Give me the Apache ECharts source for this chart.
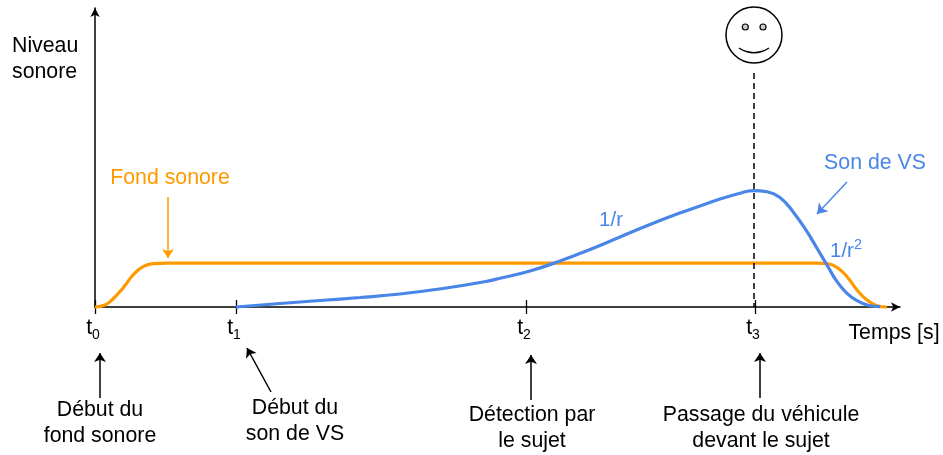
<!DOCTYPE html>
<html><head><meta charset="utf-8">
<style>html,body{margin:0;padding:0;background:#fff}#c{width:943px;height:455px}</style>
<script src="https://cdn.jsdelivr.net/npm/echarts@6/dist/echarts.min.js"></script>
</head><body><div id="c"></div>
<script>
// Axis units: 1 unit on each axis, origin at t0 / zero level
var tickTimes = [0, 141, 431, 660];
var tickLabels = ['{t|t}{s|0}', '{t|t}{s|1}', '{t|t}{s|2}', '{t|t}{s|3}'];
var fondSonore = [[0,0],[10,2],[18,8],[28,19],[38,32],[48,40.3],[58,43.3],[72,43.8],[200,43.8],[400,43.8],[600,43.8],[722,43.8],[732,43.4],[742,39.7],[752,30.3],[762,17],[772,7],[782,1.3],[792,0]];
var sonVS = [[141,0],[185,3.5],[225,6.5],[265,9.5],[305,13],[348,18.5],[388,25],[405,28.7],[435,36],[465,46],[495,57.5],[525,70],[555,82.5],[585,94],[605,101],[625,108],[645,113.8],[658,116.4],[672,115.3],[685,109.5],[698,95.3],[712,75.3],[722,58.7],[732,42],[742,25.3],[752,13.7],[762,6.3],[773,1.7],[785,0.3]];
var blackArrows = [
  [[5,-91],[5,-46]],
  [[176,-85],[152,-41]],
  [[436,-93],[436,-48]],
  [[665,-91],[665,-46]]
];
var orangeArrows = [[[73,110],[73,49]]];
var blueArrows = [[[752,125],[722,93]]];
var passageLine = [[[659,234],[659,0]]];
var blackLabels = [
  ['Début du\nfond sonore', 5, -116],
  ['Début du\nson de VS', 200, -114],
  ['Détection par\nle sujet', 437, -121],
  ['Passage du véhicule\ndevant le sujet', 666, -121],
  ['Temps [s]', 799, -26]
];
var sideLabel = ['Niveau\nsonore', -83, 248];
var orangeLabels = [['Fond sonore', 75, 129]];
var blueLabels = [['Son de VS', 780, 144],['{b|1/r}', 516, 90],['{b|1/r}{sup|2}', 751, 59]];
var faceOutline = [[659, 272]];
var faceEyes = [[650.3, 280],[668, 280]];
var faceMouth = [[644,259],[651,255.6],[659,254.3],[667,255.6],[674,259]];

var FONT = '"Liberation Sans", Arial, sans-serif';
var ORANGE = '#ff9900', BLUE = '#4a86e8';
function textSeries(rows, color, extra) {
  return {
    type:'scatter', clip:false, symbolSize:0, silent:true, z:10, itemStyle:{opacity:1},
    data: rows.map(function(r){ return {name:r[0], value:[r[1],r[2]]}; }),
    label: Object.assign({
      show:true, position:'inside', formatter:function(p){return p.name;}, opacity:1,
      color:color, fontFamily:FONT, fontSize:21.3, lineHeight:26, align:'center', verticalAlign:'middle'
    }, extra||{})
  };
}
function arrowSeries(rows, color, width, size, dashed, z) {
  return {
    type:'lines', coordinateSystem:'cartesian2d', clip:false, silent:true, z:z||6,
    symbol: dashed ? ['none','none'] : ['none','arrow'], symbolSize:size,
    lineStyle:{color:color, width:width, type: dashed ? [6,4] : 'solid', opacity:1, curveness:0},
    data: rows.map(function(r){ return {coords:r}; })
  };
}
var chart = echarts.init(document.getElementById('c'), null, {renderer:'canvas'});
chart.setOption({
  animation:false, backgroundColor:'#fff',
  grid:{left:95, top:8, width:805, height:299, containLabel:false},
  xAxis:[{
    type:'value', min:0, max:805, position:'bottom', splitLine:{show:false},
    axisLine:{onZero:false, lineStyle:{color:'#000', width:1.5}, symbol:['none','arrow'], symbolSize:[7,9]},
    axisTick:{show:true, customValues:tickTimes, length:7, inside:false, lineStyle:{color:'#000', width:1.3}},
    axisLabel:{show:true, customValues:tickTimes, margin:8, padding:[0,4,0,0], hideOverlap:false, showMinLabel:true, showMaxLabel:true,
      formatter:function(v){ return tickLabels[tickTimes.indexOf(v)]; },
      rich:{t:{fontFamily:FONT,fontSize:21.3,color:'#000',lineHeight:26},
            s:{fontFamily:FONT,fontSize:14,color:'#000',padding:[13,0,0,0]}}}
  },{
    type:'value', min:0, max:805, position:'bottom', splitLine:{show:false},
    axisLine:{show:false}, axisLabel:{show:false},
    axisTick:{show:true, customValues:tickTimes, length:7, inside:true, lineStyle:{color:'#000', width:1.3}}
  }],
  yAxis:{
    type:'value', min:0, max:299, splitLine:{show:false}, axisLabel:{show:false}, axisTick:{show:false},
    axisLine:{onZero:false, lineStyle:{color:'#000', width:1.5}, symbol:['none','arrow'], symbolSize:[7,9]}
  },
  series:[
    {type:'line', name:'Fond sonore', data:fondSonore, smooth:0.45, showSymbol:false, clip:false, silent:true, z:2,
      lineStyle:{color:ORANGE,width:3.2}},
    {type:'line', name:'Son de VS', data:sonVS, smooth:0.45, showSymbol:false, clip:false, silent:true, z:3,
      lineStyle:{color:BLUE,width:3.2}},
    arrowSeries(passageLine,'#000',1.5,0,true,4),
    arrowSeries(blackArrows,'#000',1.5,[7,9]),
    arrowSeries(orangeArrows,ORANGE,1.5,[7,9]),
    arrowSeries(blueArrows,BLUE,1.5,[7,10]),
    textSeries(blackLabels,'#000'),
    textSeries([sideLabel],'#000',{align:'left'}),
    textSeries(orangeLabels,ORANGE),
    textSeries(blueLabels,BLUE,{rich:{b:{fontFamily:FONT,fontSize:20.5,color:BLUE,padding:[6,0,0,0]},
                                      sup:{fontFamily:FONT,fontSize:14.5,color:BLUE,padding:[0,0,6,0]}}}),
    {type:'scatter', clip:false, silent:true, data:faceOutline, symbol:'circle', symbolSize:56, z:5,
      itemStyle:{color:'#fff',borderColor:'#000',borderWidth:1.5,opacity:1}},
    {type:'scatter', clip:false, silent:true, data:faceEyes, symbol:'circle', symbolSize:6, z:6,
      itemStyle:{color:'#cccccc',borderColor:'#000',borderWidth:1.2,opacity:1}},
    {type:'line', data:faceMouth, smooth:0.5, showSymbol:false, clip:false, silent:true, z:6,
      lineStyle:{color:'#000',width:1.5}}
  ]
});
</script></body></html>
